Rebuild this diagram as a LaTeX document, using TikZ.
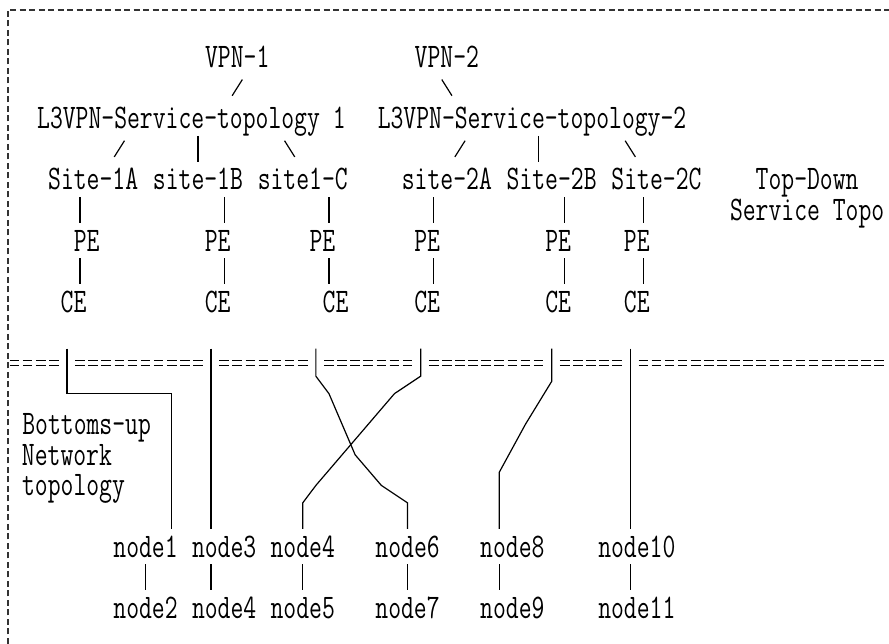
\documentclass[tikz,border=0pt]{standalone}
\usepackage{graphicx}

\begin{document}
\begin{tikzpicture}[x=6.55pt, y=-15.3pt,
    txt/.style={inner sep=0pt, yscale=1.38, font=\ttfamily\fontsize{12.48}{11.09}\selectfont},
    cell/.style={txt, text height=7.63pt, text depth=0pt},
    link/.style={line width=0.6pt, shorten <=3.3pt, shorten >=3.3pt},
    slant/.style={line width=0.6pt, shorten <=6.75pt, shorten >=6.75pt},
    wire/.style={line width=0.6pt, shorten >=3.3pt},
    bar/.style={line width=0.6pt, dash pattern=on 4.8pt off 1.75pt},
    frame/.style={line width=1pt, black!80, dash pattern=on 3pt off 1.75pt}]
        \useasboundingbox (-1.111,0.137) rectangle (66.75,21.18);
        \draw[frame] (-0.538,21.18) -- (-0.538,0.464) -- (66.75,0.464);

        \node[cell] (vpn1) at (17,2) {VPN-1};
        \node[cell] (vpn2) at (33,2) {VPN-2};

        \node[cell] (svc1) at (13.5,4) {L3VPN-Service-topology 1};
        \node[cell] (svc2) at (39.5,4) {L3VPN-Service-topology-2};

        \node[cell] (s1a) at (6,6)  {Site-1A};
        \node[cell] (s1b) at (14,6) {site-1B};
        \node[cell] (s1c) at (22,6) {site1-C};
        \node[cell] (s2a) at (33,6) {site-2A};
        \node[cell] (s2b) at (41,6) {Site-2B};
        \node[cell] (s2c) at (49,6) {Site-2C};
        \node[cell] (topdown) at (60.5,6) {Top-Down};
        \node[cell] (svctopo) at (60.5,7) {Service Topo};

        \node[cell] (pe1) at (5.5,8)  {PE};
        \node[cell] (pe2) at (15.5,8) {PE};
        \node[cell] (pe3) at (23.5,8) {PE};
        \node[cell] (pe4) at (31.5,8) {PE};
        \node[cell] (pe5) at (41.5,8) {PE};
        \node[cell] (pe6) at (47.5,8) {PE};

        \node[cell] (ce1) at (4.5,10)  {CE};
        \node[cell] (ce2) at (15.5,10) {CE};
        \node[cell] (ce3) at (24.5,10) {CE};
        \node[cell] (ce4) at (31.5,10) {CE};
        \node[cell] (ce5) at (41.5,10) {CE};
        \node[cell] (ce6) at (47.5,10) {CE};

        \node[cell] (bottomup) at (5.5,14) {Bottoms-up};
        \node[cell] (network)  at (4,15)   {Network};
        \node[cell] (topology) at (4.5,16) {topology};

        \node[cell] (n1)  at (10,18)   {node1};
        \node[cell] (n3)  at (16,18)   {node3};
        \node[cell] (n4)  at (22,18)   {node4};
        \node[cell] (n6)  at (30,18)   {node6};
        \node[cell] (n8)  at (38,18)   {node8};
        \node[cell] (n10) at (47.5,18) {node10};

        \node[cell] (n2)  at (10,20)   {node2};
        \node[cell] (n4b) at (16,20)   {node4};
        \node[cell] (n5)  at (22,20)   {node5};
        \node[cell] (n7)  at (30,20)   {node7};
        \node[cell] (n9)  at (38,20)   {node9};
        \node[cell] (n11) at (47.5,20) {node11};

        \draw[slant] (vpn1.south -| 17.94,0) -- (svc1.north -| 16.06,0);
        \draw[slant] (vpn2.south -| 32.06,0) -- (svc2.north -| 33.94,0);

        \draw[slant] (svc1.south -| 8.94,0)  -- (s1a.north -| 7.06,0);
        \draw[link]  (svc1.south -| 14,0)    -- (s1b.north -| 14,0);
        \draw[slant] (svc1.south -| 20.06,0) -- (s1c.north -| 21.94,0);
        \draw[slant] (svc2.south -| 34.94,0) -- (s2a.north -| 33.06,0);
        \draw[link]  (svc2.south -| 40,0)    -- (s2b.north -| 40,0);
        \draw[slant] (svc2.south -| 46.06,0) -- (s2c.north -| 47.94,0);

        \foreach \s/\p/\c/\x in {s1a/pe1/ce1/5, s1b/pe2/ce2/16, s1c/pe3/ce3/24,
                                 s2a/pe4/ce4/32, s2b/pe5/ce5/42, s2c/pe6/ce6/48} {
            \draw[link] (\s.south -| \x,0) -- (\p.north -| \x,0);
            \draw[link] (\p.south -| \x,0) -- (\c.north -| \x,0);
        }

        % separator between service and network layers
        \foreach \a/\b in {0/3, 5/14, 16/22, 24/30, 32/40, 42/46, 48/66}
            \foreach \y in {11.91, 12.09}
                \draw[bar] (\a-0.366,\y) -- (\b+0.366,\y);

        \foreach \j/\x in {1/4, 2/15, 3/23, 4/31, 5/41, 6/47}
            \coordinate (j\j) at (\x,11.53);

        \draw[wire] (j1) -- (4,13) -- (12,13) -- (n1.north -| 12,0);
        \draw[wire] (j2) -- (n3.north -| j2);
        \draw[wire] (j3) -- (23,12.43) -- (24,13) -- (26,15) -- (28,16) -- (30,16.57) -- (n6.north);
        \draw[wire] (j4) -- (31,12.43) -- (29,13) -- (23,16) -- (22,16.57) -- (n4.north);
        \draw[wire] (j5) -- (41,12.6) -- (39,14) -- (37,15.57) -- (n8.north -| 37,0);
        \draw[wire] (j6) -- (n10.north -| j6);

        \draw[link] (n1.south) -- (n2.north);
        \draw[link] (n3.south -| 15,0) -- (n4b.north -| 15,0);
        \draw[link] (n4.south) -- (n5.north);
        \draw[link] (n6.south) -- (n7.north);
        \draw[link] (n8.south -| 37,0) -- (n9.north -| 37,0);
        \draw[link] (n10.south -| 47,0) -- (n11.north -| 47,0);
    \end{tikzpicture}
\end{document}
